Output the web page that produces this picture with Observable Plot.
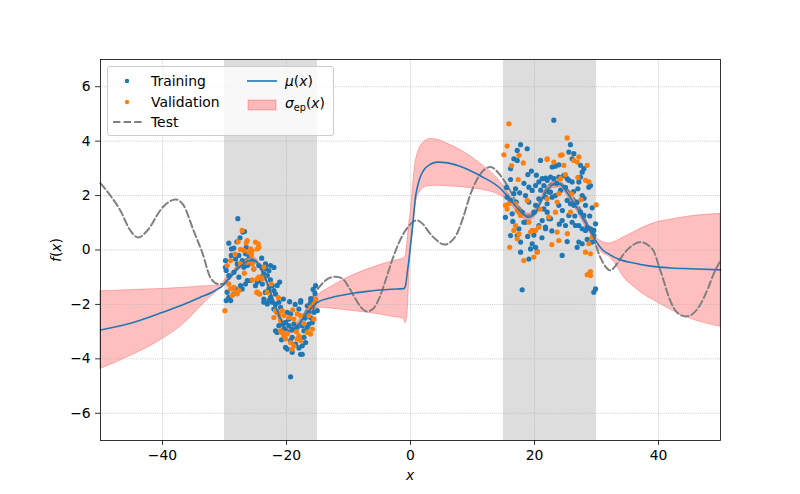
<!DOCTYPE html>
<html><head><meta charset="utf-8">
<script src="https://cdn.jsdelivr.net/npm/d3@7"></script>
<script src="https://cdn.jsdelivr.net/npm/@observablehq/plot@0.6"></script>
<style>
body{margin:0;background:#fff;}
#wrap{position:relative;width:800px;height:494px;font-family:"DejaVu Sans",sans-serif;color:#000;}
#wrap svg.plot{position:absolute;left:0;top:0;}
#legend{position:absolute;left:107px;top:66px;width:227px;height:70px;box-sizing:border-box;border:1px solid #cccccc;border-radius:3px;background:rgba(255,255,255,0.8);font-size:13.9px;}
#legend span{position:absolute;line-height:16px;white-space:nowrap;}
.lab{position:absolute;font-size:13.9px;white-space:nowrap;line-height:16px;}
</style>
</head><body>
<div id="wrap"></div>
<script>
// ---- data ----
const xTicks = [-40, -20, 0, 20, 40];
const yTicks = [-6, -4, -2, 0, 2, 4, 6];
const xDomain = [-50, 50];
const yDomain = [-7, 7];
// shaded training regions [x1, x2]
const spans = [[-30, -15], [15, 30]];

// Test function (dashed)
const test = [[-50,2.45],[-48.4,2.0],[-46.8,1.45],[-45.2,0.72],[-43.9,0.46],[-42.5,0.7],[-40,1.56],[-37.9,1.86],[-36.6,1.64],[-35,0.72],[-33.5,-0.15],[-32.3,-1.0],[-31,-1.25],[-30,-1.25],[-29,-1.0],[-28,-0.65],[-27,-0.4],[-26,-0.3],[-25,-0.4],[-24,-0.75],[-23,-1.3],[-22,-2.0],[-21,-2.6],[-20,-2.95],[-19,-3.0],[-18,-2.75],[-17,-2.3],[-16,-1.85],[-15,-1.45],[-14,-1.18],[-13,-1.02],[-12,-0.98],[-11,-1.05],[-10,-1.35],[-9,-1.75],[-8,-2.1],[-7,-2.26],[-6,-2.15],[-5,-1.75],[-4,-1.1],[-3,-0.4],[-2,0.2],[-1,0.65],[0,0.95],[1,1.09],[2,0.95],[3,0.65],[4,0.4],[5.5,0.2],[6.5,0.3],[7.5,0.6],[8.5,1.2],[9.7,2.07],[11.3,2.8],[12.9,3.05],[14.5,2.74],[15.9,2.25],[17.2,1.7],[18.8,1.27],[20,1.3],[21,1.75],[22,2.31],[23,2.44],[24.2,2.44],[25,2.3],[26.3,1.94],[28,1.21],[29.6,0.35],[30.6,-0.26],[32.3,-0.75],[33,-0.6],[34.4,-0.14],[35.5,0.12],[37.1,0.29],[39,0.04],[40.3,-0.75],[41.9,-1.86],[43,-2.3],[44.4,-2.44],[45.5,-2.35],[46.8,-1.98],[48,-1.4],[48.9,-0.88],[50,-0.39]];

// [x, mu, lower, upper]
const band = [[-50,-2.94,-4.37,-1.52],[-45,-2.68,-3.88,-1.47],[-40,-2.29,-3.27,-1.43],[-36.6,-2.0,-2.72,-1.39],[-33.9,-1.74,-2.1,-1.34],[-32,-1.55,-1.68,-1.32],[-31,-1.42,-1.48,-1.31],[-30.4,-1.33,-1.38,-1.28],[-30,-1.22,-1.32,-1.12],[-29,-0.97,-1.07,-0.87],[-28,-0.72,-0.82,-0.62],[-27,-0.52,-0.62,-0.42],[-26,-0.38,-0.48,-0.28],[-25.5,-0.35,-0.45,-0.25],[-25,-0.4,-0.5,-0.3],[-24,-0.72,-0.82,-0.62],[-23,-1.28,-1.38,-1.18],[-22,-1.92,-2.02,-1.82],[-21,-2.5,-2.6,-2.4],[-20,-2.9,-3.0,-2.8],[-19.5,-2.98,-3.08,-2.88],[-19,-2.95,-3.05,-2.85],[-18,-2.72,-2.82,-2.6],[-17,-2.42,-2.55,-2.28],[-16,-2.13,-2.3,-1.95],[-15,-1.92,-2.12,-1.68],[-13,-1.76,-2.15,-1.38],[-11,-1.66,-2.2,-1.12],[-9,-1.58,-2.25,-0.9],[-7,-1.52,-2.3,-0.72],[-5,-1.47,-2.37,-0.56],[-3,-1.44,-2.45,-0.42],[-1.1,-1.42,-2.53,-0.3],[-0.8,-1.31,-2.68,-0.22],[-0.5,-0.79,-2.4,0.3],[-0.25,-0.35,-1.3,0.9],[0,0.17,-0.13,1.35],[0.27,0.72,0.45,2.0],[0.5,1.25,1.0,2.6],[0.8,1.94,1.6,3.2],[1.1,2.3,1.95,3.5],[1.6,2.7,2.15,3.8],[2.1,2.92,2.28,3.95],[3.2,3.15,2.35,4.08],[4.4,3.23,2.36,4.05],[6,3.2,2.34,3.9],[8.6,3.02,2.3,3.6],[11.3,2.72,2.22,3.17],[14.5,2.26,2.0,2.5],[16,1.88,1.74,2.02],[17,1.6,1.45,1.75],[18,1.35,1.2,1.5],[19,1.2,1.07,1.33],[20,1.33,1.2,1.45],[21,1.78,1.66,1.9],[22,2.18,2.06,2.3],[23,2.4,2.28,2.52],[24,2.42,2.3,2.54],[25,2.2,2.08,2.32],[26,1.85,1.73,1.97],[27,1.5,1.38,1.62],[28,1.08,0.96,1.2],[29,0.72,0.6,0.84],[30,0.3,0.15,0.45],[31,0.0,-0.12,0.3],[32,-0.15,-0.24,0.24],[33,-0.28,-0.5,0.3],[34.4,-0.4,-1.0,0.47],[36,-0.48,-1.35,0.65],[37.1,-0.53,-1.55,0.78],[39.8,-0.62,-1.92,1.02],[42,-0.66,-2.2,1.12],[45.2,-0.69,-2.53,1.24],[50,-0.73,-2.82,1.33]];

const training = [[-27.85,1.15],[-27.04,0.66],[-26.77,0.68],[-28.87,0.04],[-28.49,0.07],[-27.68,-0.2],[-26.61,-0.14],[-26.07,-0.2],[-29.84,-0.39],[-29.84,-0.63],[-29.73,-0.75],[-28.22,-0.33],[-27.95,-0.51],[-27.15,-0.39],[-26.88,-0.63],[-26.34,-0.57],[-26.07,-0.51],[-29.3,-0.94],[-28.49,-0.82],[-27.68,-1.0],[-27.42,-1.31],[-26.34,-1.12],[-25.8,-1.12],[-25.0,-1.31],[-24.7,-1.18],[-24.45,-1.12],[-23.9,-1.25],[-23.38,-0.57],[-23.38,-0.69],[-23.1,-0.94],[-29.57,-1.55],[-29.3,-1.74],[-29.73,-1.86],[-28.22,-1.43],[-28.49,-1.61],[-26.61,-1.25],[-27.15,-1.43],[-23.38,-1.55],[-23.65,-1.8],[-23.1,-1.98],[-29.0,-1.86],[-21.1,-1.18],
[-25.53,-0.45],[-25.26,-0.7],[-24.46,-0.57],[-23.92,-0.64],[-23.38,-0.51],[-22.57,-0.57],[-22.03,-0.64],[-22.84,-0.76],[-23.65,-0.88],[-24.19,-1.0],[-23.38,-1.56],[-22.84,-1.43],[-22.3,-1.31],[-22.03,-1.49],[-21.77,-1.62],[-22.57,-1.74],[-23.65,-1.92],[-22.84,-1.86],[-22.3,-1.92],[-21.77,-1.99],[-21.23,-1.92],[-20.96,-2.11],[-22.03,-2.17],[-21.5,-2.29],[-19.88,-2.29],[-19.34,-2.35],[-19.61,-2.54],[-20.15,-2.66],[-20.69,-2.72],[-21.23,-2.78],[-20.42,-2.91],[-18.0,-2.17],[-17.73,-1.92],[-16.65,-2.05],[-15.85,-2.11],[-16.12,-1.92],[-15.58,-1.86],[-15.31,-1.31],[-19.61,-2.78],[-18.81,-2.72],[-19.08,-2.91],[-18.27,-2.84],[-17.46,-2.78],[-17.19,-2.97],[-16.65,-2.84],[-16.38,-2.72],[-15.85,-2.66],[-16.12,-2.48],[-15.58,-2.29],[-16.38,-2.29],[-15.04,-2.23],[-21.77,-2.97],[-21.5,-3.03],[-20.15,-3.58],[-19.88,-3.64],[-19.34,-3.33],[-19.08,-3.21],[-18.54,-3.46],[-17.73,-3.83],[-17.46,-3.52],[-16.92,-3.4],[-17.19,-3.21],[-19.34,-4.66],[-19.08,-3.76],[-17.46,-3.83],[-17.7,-1.86],[-16.1,-1.79],[-15.4,-1.6],
[-28.0,0.3],[-27.5,0.45],[-29.3,0.25],[-28.9,-0.2],[-26.5,0.1],[-24.0,-0.3],[-22.6,-1.1],[-21.5,-1.3],[-20.5,-1.8],[-19.5,-1.9],[-18.6,-2.0],[-17.0,-2.5],[-15.7,-1.45],[-20.8,-3.3],[-18.0,-3.6],
[17.75,3.87],[18.82,3.72],[17.21,3.66],[16.67,3.35],[17.21,3.29],[16.13,2.99],[18.93,2.77],[16.13,2.59],[20.97,3.29],[21.24,2.62],[21.78,2.64],[20.7,2.5],[20.17,2.37],[19.09,2.31],[19.63,2.19],[18.55,2.0],[16.94,2.25],[16.67,2.07],[16.13,1.82],[15.59,1.94],[17.05,1.76],[16.4,1.33],[18.01,1.39],[18.28,1.02],[17.48,0.78],[17.21,0.53],[16.13,0.53],[17.75,0.29],[19.63,0.23],[20.17,0.1],[19.36,0.04],[20.44,-0.06],[17.75,-0.08],[19.09,-0.33],[18.01,-1.46],[21.51,2.37],[22.05,2.56],[22.32,2.13],[21.78,1.94],[21.51,1.51],[22.05,1.39],[22.32,1.15],[21.24,1.08],[20.7,0.9],[21.78,0.78],[19.9,1.39],[20.17,1.64],[19.09,1.76],[20.7,1.88],[18.55,1.02],
[23.12,4.77],[23.38,3.08],[23.92,3.13],[22.85,3.05],[25.8,3.87],[25.54,3.6],[26.34,3.54],[26.07,3.35],[27.42,3.11],[27.96,2.99],[27.69,2.86],[27.42,2.68],[22.58,2.68],[23.12,2.62],[23.92,2.68],[24.73,2.74],[25.27,2.62],[25.54,2.56],[26.07,2.5],[27.15,2.5],[28.76,2.31],[29.03,2.37],[22.58,2.13],[22.85,1.94],[23.38,2.0],[24.19,2.19],[25.27,1.82],[25.8,1.7],[26.34,1.64],[26.88,1.76],[27.69,2.0],[28.23,1.64],[27.42,1.39],[27.96,1.27],[21.77,0.84],[22.58,1.15],[24.46,1.08],[25.0,0.9],[25.54,1.27],[26.07,1.02],[26.61,0.9],[27.15,0.9],[27.69,0.78],[28.23,0.72],[28.5,0.84],[29.03,0.78],[29.57,0.72],[29.84,0.96],[25.27,0.31],[27.15,0.29],[27.69,0.23],[29.57,0.53],[28.5,0.39],[29.3,0.29],[26.88,0.1],[24.46,-0.2],[29.57,-1.55],[29.84,-1.43],[22.04,1.7],[23.92,1.64],
[19.5,2.9],[20.3,2.75],[21.0,2.2],[18.3,2.45],[17.6,2.1],[19.9,0.55],[18.9,0.5],[21.2,0.45],[22.8,0.7],[24.0,0.95],[26.3,2.15],[27.0,2.25],[28.0,1.9],[25.0,2.3],[24.5,1.45],[26.5,1.25],[28.9,1.25],[29.3,1.55],[23.6,2.45],[16.5,1.05],[15.5,2.3],[15.3,1.2]];

const validation = [[-27.15,0.72],[-26.34,0.35],[-26.5,0.26],[-25.0,0.29],[-24.56,0.23],[-24.46,0.1],[-24.7,0.04],[-27.42,0.02],[-26.88,-0.02],[-25.8,0.04],[-25.53,-0.02],[-26.07,-0.08],[-25.64,-0.18],[-29.57,-0.57],[-29.03,-0.39],[-27.42,-0.51],[-26.34,-0.45],[-25.53,-0.51],[-25.26,-0.69],[-24.46,-1.0],[-23.65,-0.63],[-23.65,-1.0],[-29.3,-1.25],[-29.03,-1.43],[-28.49,-1.37],[-28.22,-1.55],[-27.95,-1.61],[-28.76,-1.67],[-27.68,-1.49],[-24.7,-1.55],[-24.46,-1.61],[-29.94,-2.23],
[-25.53,-1.1],[-24.72,-1.06],[-23.92,-1.06],[-24.83,-1.56],[-24.29,-1.62],[-23.11,-1.56],[-21.77,-2.23],[-22.03,-2.48],[-21.23,-2.35],[-20.96,-2.6],[-20.42,-2.41],[-20.69,-2.23],[-19.61,-2.48],[-18.27,-2.35],[-17.73,-2.41],[-18.81,-2.54],[-15.31,-1.8],[-15.58,-1.98],[-16.12,-2.11],[-16.38,-2.41],[-15.58,-2.54],[-15.85,-2.91],[-16.65,-3.03],[-16.12,-3.09],[-20.42,-3.15],[-20.15,-3.27],[-20.96,-2.97],[-20.69,-3.03],[-19.88,-3.09],[-19.34,-3.4],[-18.81,-3.52],[-19.08,-3.64],[-18.27,-3.27],[-17.73,-3.33],[-18.0,-3.15],
[-27.8,0.3],[-28.3,-0.15],[-26.8,-0.85],[-22.5,-1.25],[-21.3,-1.75],[-19.0,-2.2],[-17.2,-2.7],[-18.4,-3.0],
[15.86,4.64],[15.59,3.82],[15.06,3.5],[17.48,3.48],[17.37,2.59],[22.05,3.35],[15.32,1.64],[15.86,1.7],[15.59,1.51],[16.94,1.7],[17.21,1.45],[17.75,1.27],[17.48,1.39],[18.82,1.82],[19.09,1.02],[19.63,0.72],[19.36,0.66],[20.17,0.72],[20.7,0.84],[16.94,0.9],[16.67,0.72],[17.48,0.59],[17.21,0.41],[18.28,-0.39],[20.44,-0.08],[19.9,-0.26],
[25.27,4.12],[22.04,3.33],[23.12,3.23],[24.19,3.48],[24.46,3.5],[26.34,3.29],[27.15,3.42],[26.88,3.23],[24.73,3.11],[28.5,3.11],[28.23,2.56],[28.76,2.5],[25.0,2.77],[24.19,2.62],[26.99,2.67],[22.04,1.88],[23.92,2.07],[23.65,1.76],[23.38,1.39],[22.31,1.21],[23.92,0.35],[23.65,0.66],[25.8,1.39],[29.3,0.47],[28.76,0.23],[29.95,1.66],[28.23,-0.08],[29.03,-0.14],[28.76,-0.88],[29.03,-0.94],[28.5,-0.91],[29.03,-0.79],
[16.3,3.1],[18.2,3.2],[20.9,1.5],[26.0,2.05],[27.5,1.85],[25.3,0.6],[22.8,0.2],[16.0,0.1]];

// ---- colors ----
const C_TRAIN = "#1f77b4", C_VAL = "#ff7f0e", C_TEST = "gray", C_MU = "#1f77b4";

const fmt = d3.format("d");
const chart = Plot.plot({
  width: 800, height: 494,
  marginLeft: 100, marginRight: 80, marginTop: 59, marginBottom: 54,
  x: {domain: xDomain},
  y: {domain: yDomain},
  style: {fontFamily: "DejaVu Sans", fontSize: "13.9px", background: "transparent", color: "black"},
  marks: [
    Plot.rect(spans, {x1: d => d[0], x2: d => d[1], y1: () => yDomain[0], y2: () => yDomain[1], fill: "#dddddd"}),
    Plot.areaY(band, {x: d => d[0], y1: d => d[2], y2: d => d[3], fill: "red", fillOpacity: 0.25, stroke: "red", strokeOpacity: 0.25, strokeWidth: 1, curve: "monotone-x"}),
    Plot.gridX(xTicks, {stroke: "#b0b0b0", strokeOpacity: 1, strokeWidth: 0.8, strokeDasharray: "0.8,1.32"}),
    Plot.gridY(yTicks, {stroke: "#b0b0b0", strokeOpacity: 1, strokeWidth: 0.8, strokeDasharray: "0.8,1.32"}),
    Plot.line(test, {x: d => d[0], y: d => d[1], stroke: C_TEST, strokeWidth: 2, strokeDasharray: "7.4,3.2", curve: "monotone-x"}),
    Plot.dot(training, {x: d => d[0], y: d => d[1], r: 2.6, fill: C_TRAIN}),
    Plot.dot(validation, {x: d => d[0], y: d => d[1], r: 2.6, fill: C_VAL}),
    Plot.line(band, {x: d => d[0], y: d => d[1], stroke: C_MU, strokeWidth: 1.6, curve: "monotone-x"}),
    Plot.frame({stroke: "black", strokeWidth: 0.8}),
    Plot.axisX(xTicks, {tickSize: 4.9, tickPadding: 4.9, tickFormat: fmt, label: null, strokeWidth: 0.8}),
    Plot.axisY(yTicks, {tickSize: 4.9, tickPadding: 4.9, tickFormat: fmt, label: null, strokeWidth: 0.8})
  ]
});
chart.classList.add("plot");
const wrap = document.getElementById("wrap");
wrap.appendChild(chart);

// axis labels
const xl = document.createElement("div");
xl.className = "lab";
xl.style.left = "410px"; xl.style.top = "475px"; xl.style.transform = "translate(-50%,-50%)";
xl.innerHTML = "<i>x</i>";
wrap.appendChild(xl);
const yl = document.createElement("div");
yl.className = "lab";
yl.style.left = "56px"; yl.style.top = "249.5px"; yl.style.transform = "translate(-50%,-50%) rotate(-90deg)";
yl.innerHTML = "<i>f</i>(<i>x</i>)";
wrap.appendChild(yl);

// legend
const lg = document.createElement("div");
lg.id = "legend";
lg.innerHTML = `
<svg width="225" height="68" style="position:absolute;left:0;top:0">
  <circle cx="19" cy="14" r="2.2" fill="${C_TRAIN}"/>
  <circle cx="19" cy="35" r="2.2" fill="${C_VAL}"/>
  <line x1="5" x2="33.6" y1="55" y2="55" stroke="${C_TEST}" stroke-width="2" stroke-dasharray="7.4,3.2"/>
  <line x1="139" x2="169" y1="14" y2="14" stroke="${C_MU}" stroke-width="1.6"/>
  <rect x="140" y="33" width="28" height="10" fill="red" fill-opacity="0.25" stroke="red" stroke-opacity="0.25"/>
</svg>
<span style="left:43px;top:6px">Training</span>
<span style="left:43px;top:27px">Validation</span>
<span style="left:43px;top:47px">Test</span>
<span style="left:177px;top:6px"><i>μ</i>(<i>x</i>)</span>
<span style="left:177px;top:28px"><i>σ</i><sub style="font-size:9.7px;vertical-align:-3px">ep</sub>(<i>x</i>)</span>
`;
wrap.appendChild(lg);
</script>
</body></html>
